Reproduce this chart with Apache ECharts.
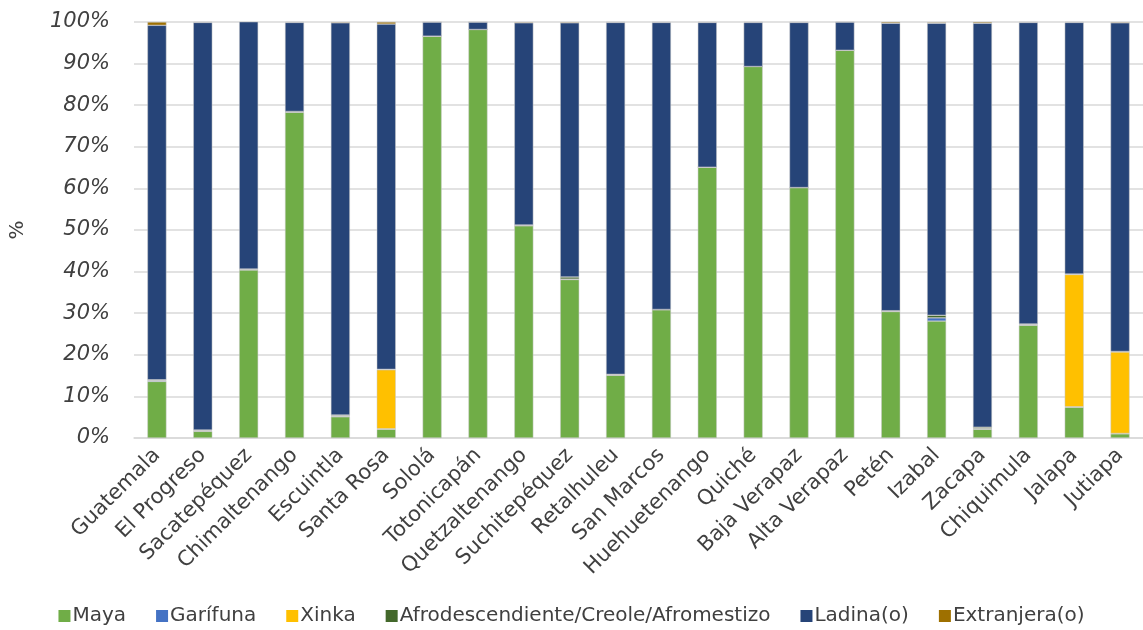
<!DOCTYPE html>
<html>
<head>
<meta charset="utf-8">
<script src="https://cdn.jsdelivr.net/npm/echarts@6/dist/echarts.min.js"></script>
<style>
  html, body { margin: 0; padding: 0; background: #fff; }
  #chart { width: 1143px; height: 630px; }
</style>
</head>
<body>
<div id="chart"></div>
<script>
// departamentos
var departamentos = ['Guatemala', 'El Progreso', 'Sacatepéquez', 'Chimaltenango', 'Escuintla', 'Santa Rosa',
  'Sololá', 'Totonicapán', 'Quetzaltenango', 'Suchitepéquez', 'Retalhuleu', 'San Marcos',
  'Huehuetenango', 'Quiché', 'Baja Verapaz', 'Alta Verapaz', 'Petén', 'Izabal', 'Zacapa',
  'Chiquimula', 'Jalapa', 'Jutiapa']

// % por pueblo
var maya =        [13.6, 1.6, 40.4, 78.3, 5.1, 2.1, 96.6, 98.2, 51.0, 38.1, 15.1, 30.8, 65.1, 89.3, 60.2, 93.2, 30.4, 28.1, 2.1, 27.1, 7.4, 1.0]
var garifuna =    [0.2, 0.1, 0.1, 0.1, 0.1, 0.1, 0.0, 0.0, 0.1, 0.1, 0.1, 0.1, 0.0, 0.0, 0.0, 0.0, 0.1, 0.8, 0.1, 0.1, 0.1, 0.1]
var xinka =       [0.1, 0.1, 0.0, 0.0, 0.1, 14.2, 0.0, 0.0, 0.0, 0.0, 0.0, 0.0, 0.0, 0.0, 0.0, 0.0, 0.0, 0.0, 0.1, 0.1, 31.8, 19.6]
var afro =        [0.1, 0.1, 0.1, 0.1, 0.2, 0.1, 0.0, 0.0, 0.1, 0.5, 0.1, 0.0, 0.0, 0.0, 0.0, 0.0, 0.1, 0.6, 0.3, 0.1, 0.1, 0.1]
var ladina =      [85.2, 98.0, 98.9, 21.4, 94.3, 83.0, 3.4, 1.8, 48.6, 61.1, 84.6, 69.0, 34.8, 10.6, 39.7, 6.8, 69.1, 70.2, 97.1, 72.5, 60.5, 79.0]
var extranjera =  [0.8, 0.1, 0.5, 0.1, 0.2, 0.5, 0.0, 0.0, 0.2, 0.2, 0.1, 0.1, 0.1, 0.1, 0.1, 0.0, 0.3, 0.2, 0.3, 0.1, 0.1, 0.2]

var yTicks = ['0%', '10%', '20%', '30%', '40%', '50%', '60%', '70%', '80%', '90%', '100%']

var font = 'DejaVu Sans'
var txt = '#404040'

var chart = echarts.init(document.getElementById('chart'))

function serie(name, data, color) {
  return {
    name: name,
    type: 'bar',
    stack: 'total',
    barWidth: 19,
    data: data,
    itemStyle: { color: color, borderColor: '#c8c8c8', borderWidth: 0.5 },
    emphasis: { disabled: true }
  }
}

chart.setOption({
  animation: false,
  textStyle: { fontFamily: font },
  grid: { left: 133, right: 0, top: 22, bottom: 192 },
  legend: {
    bottom: -1,
    left: 'center',
    itemWidth: 12,
    itemHeight: 12,
    itemGap: 30,
    icon: 'rect',
    itemStyle: { borderWidth: 0 },
    textStyle: { fontFamily: font, fontSize: 20, color: txt, padding: [0, 0, 0, -3] },
    data: ['Maya', 'Garífuna', 'Xinka', 'Afrodescendiente/Creole/Afromestizo', 'Ladina(o)', 'Extranjera(o)']
  },
  xAxis: {
    type: 'category',
    data: departamentos,
    axisTick: { show: false },
    axisLine: { lineStyle: { color: '#d9d9d9', width: 1.5 } },
    axisLabel: {
      rotate: 45,
      interval: 0,
      margin: 14,
      fontFamily: font,
      fontSize: 21,
      color: txt
    }
  },
  yAxis: {
    type: 'value',
    min: 0,
    max: 100,
    interval: 10,
    name: '%',
    nameLocation: 'middle',
    nameGap: 106,
    nameTextStyle: { fontFamily: font, fontSize: 20, color: txt },
    axisLabel: {
      margin: 24,
      fontFamily: font,
      fontStyle: 'italic',
      fontSize: 21,
      color: txt,
      formatter: function (v) { return yTicks[Math.round(v / 10)] }
    },
    splitLine: { lineStyle: { color: '#d9d9d9', width: 1.5 } }
  },
  series: [
    serie('Maya', maya, '#70AD47'),
    serie('Garífuna', garifuna, '#4472C4'),
    serie('Xinka', xinka, '#FFC000'),
    serie('Afrodescendiente/Creole/Afromestizo', afro, '#43682B'),
    serie('Ladina(o)', ladina, '#264478'),
    serie('Extranjera(o)', extranjera, '#9E7000')
  ]
})
</script>
</body>
</html>
